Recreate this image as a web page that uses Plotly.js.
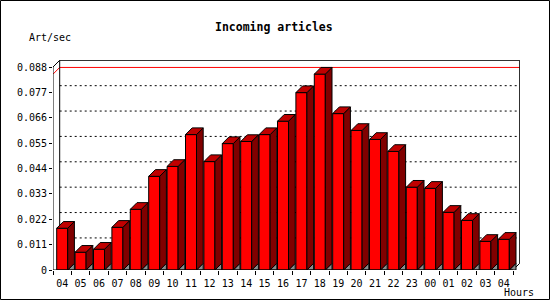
<!DOCTYPE html>
<html>
<head>
<meta charset="utf-8">
<script src="https://cdn.plot.ly/plotly-3.0.1.min.js"></script>
<style>html,body{margin:0;padding:0;background:#fff;}#chart{width:550px;height:300px;}</style>
</head>
<body>
<div id="chart"></div>
<script>
// ---- data ----
const hours = ['04','05','06','07','08','09','10','11','12','13','14','15','16','17','18','19','20','21','22','23','00','01','02','03','04'];
const artPerSec = [0.0181,0.0077,0.0090,0.0185,0.0263,0.0406,0.0449,0.0587,0.0470,0.0548,0.0557,0.0587,0.0645,0.0769,0.0849,0.0678,0.0605,0.0566,0.0514,0.0359,0.0354,0.0250,0.0215,0.0124,0.0133];
const yTickVals = [0,0.011,0.022,0.033,0.044,0.055,0.066,0.077,0.088];
const yTickText = ['0','0.011','0.022','0.033','0.044','0.055','0.066','0.077','0.088'];

// ---- geometry ----
const W = 550, H = 300;
const M = {l:53, r:30, t:60, b:30};
const PW = W - M.l - M.r, PH = H - M.t - M.b;
const slotPx = 18.4;
const yTop = 0.088;                 // front top value
const frontTopPx = 203;             // px from 0 to 0.088 on front plane
const yMax = PH * yTop / frontTopPx;
const xMin = -0.5, xMax = -0.5 + PW / slotPx;
const depthPx = 6.7;
const dx = depthPx / slotPx;
const dy = depthPx * yTop / frontTopPx;
const barW = 11 / slotPx;
const n = hours.length;
const xs = hours.map((_, i) => i);
const xLast = n - 0.5;

const px2x = p => (p - M.l) / PW;
const py2y = p => 1 - (p - M.t) / PH;

// ---- 3D faces ----
const sideX = [], sideY = [], topX = [], topY = [], floorX = [], floorY = [];
artPerSec.forEach((v, i) => {
  const xl = i - barW / 2, xr = i + barW / 2;
  sideX.push(xr, xr + dx, xr + dx, xr, xr, null);
  sideY.push(0, dy, v + dy, v, 0, null);
  topX.push(xl, xl + dx, xr + dx, xr, xl, null);
  topY.push(v, v + dy, v + dy, v, v, null);
  floorX.push(xr, xr + dx, xr + dx, xr, null);
  floorY.push(0, 0, dy, 0, null);
});

const vMax = Math.max(...artPerSec);

const traces = [
  {type:'scatter', mode:'lines', x:floorX, y:floorY, fill:'toself', fillcolor:'#8c8c8c',
   line:{color:'#000', width:1}, hoverinfo:'skip', showlegend:false},
  {type:'bar', x:xs, y:artPerSec, width:barW,
   marker:{color:'#ff0000', line:{color:'#000', width:1}}, hoverinfo:'skip', showlegend:false},
  {type:'scatter', mode:'lines', x:sideX, y:sideY, fill:'toself', fillcolor:'#800000',
   line:{color:'#000', width:1}, hoverinfo:'skip', showlegend:false},
  {type:'scatter', mode:'lines', x:topX, y:topY, fill:'toself', fillcolor:'#c00000',
   line:{color:'#000', width:1}, hoverinfo:'skip', showlegend:false}
];

// ---- shapes: back plane, grid, max line, front axes, border ----
const shapes = [];
yTickVals.slice(1, -1).forEach(v => {
  shapes.push({type:'line', xref:'x', yref:'y', layer:'below',
    x0:xMin + dx, x1:xLast + dx, y0:v + dy, y1:v + dy,
    line:{color:'#000', width:1, dash:'2px,3px'}});
});
// max line (red) at back plane
shapes.push({type:'path', xref:'x', yref:'y', layer:'below',
  path:`M ${xMin} ${vMax} L ${xMin + dx} ${vMax + dy} L ${xLast + dx} ${vMax + dy}`,
  line:{color:'#ff0000', width:1}});
// back box
shapes.push({type:'path', xref:'x', yref:'y', layer:'below',
  path:`M ${xMin + dx} ${dy} L ${xMin + dx} ${yTop + dy} L ${xLast + dx} ${yTop + dy} L ${xLast + dx} ${dy} L ${xLast} 0`,
  line:{color:'#000', width:1}});
// front axes
shapes.push({type:'path', xref:'x', yref:'y', layer:'above',
  path:`M ${xMin + dx} ${yTop + dy} L ${xMin} ${yTop} L ${xMin} 0 L ${xLast} 0`,
  line:{color:'#000', width:1}});
// outer border
shapes.push({type:'rect', xref:'paper', yref:'paper', layer:'above',
  x0:px2x(0.5), x1:px2x(W - 0.5), y0:py2y(H - 0.5), y1:py2y(0.5),
  line:{color:'#000', width:1}});

const mono = 'DejaVu Sans Mono, monospace';

const layout = {
  width:W, height:H,
  margin:{l:M.l, r:M.r, t:M.t, b:M.b, pad:0},
  paper_bgcolor:'#fff', plot_bgcolor:'#fff',
  showlegend:false,
  xaxis:{range:[xMin, xMax], tickmode:'array', tickvals:xs, ticktext:hours,
    ticks:'outside', ticklen:4, tickcolor:'rgba(0,0,0,0)', showgrid:false, zeroline:false, showline:false,
    tickfont:{family:mono, size:10, color:'#000'},
    minor:{tick0:-0.5, dtick:1, ticks:'outside', ticklen:4, tickcolor:'#000', tickwidth:1, showgrid:false},
    fixedrange:true},
  yaxis:{range:[0, yMax], tickmode:'array', tickvals:yTickVals, ticktext:yTickText,
    ticks:'outside', ticklen:3, tickcolor:'#000', tickwidth:1,
    showgrid:false, zeroline:false, showline:false,
    tickfont:{family:mono, size:10, color:'#000'}, fixedrange:true},
  shapes:shapes,
  annotations:[
    {text:'Incoming articles', xref:'paper', yref:'paper', x:px2x(274), y:py2y(27),
     xanchor:'center', yanchor:'middle', showarrow:false,
     font:{family:mono, size:11.5, color:'#000', weight:'bold'}},
    {text:'Art/sec', xref:'paper', yref:'paper', x:px2x(50), y:py2y(37.5),
     xanchor:'center', yanchor:'middle', showarrow:false,
     font:{family:mono, size:10, color:'#000'}},
    {text:'Hours', xref:'paper', yref:'paper', x:px2x(519), y:py2y(292),
     xanchor:'center', yanchor:'middle', showarrow:false,
     font:{family:mono, size:10, color:'#000'}}
  ]
};

Plotly.newPlot('chart', traces, layout, {staticPlot:true, displayModeBar:false});
</script>
</body>
</html>
